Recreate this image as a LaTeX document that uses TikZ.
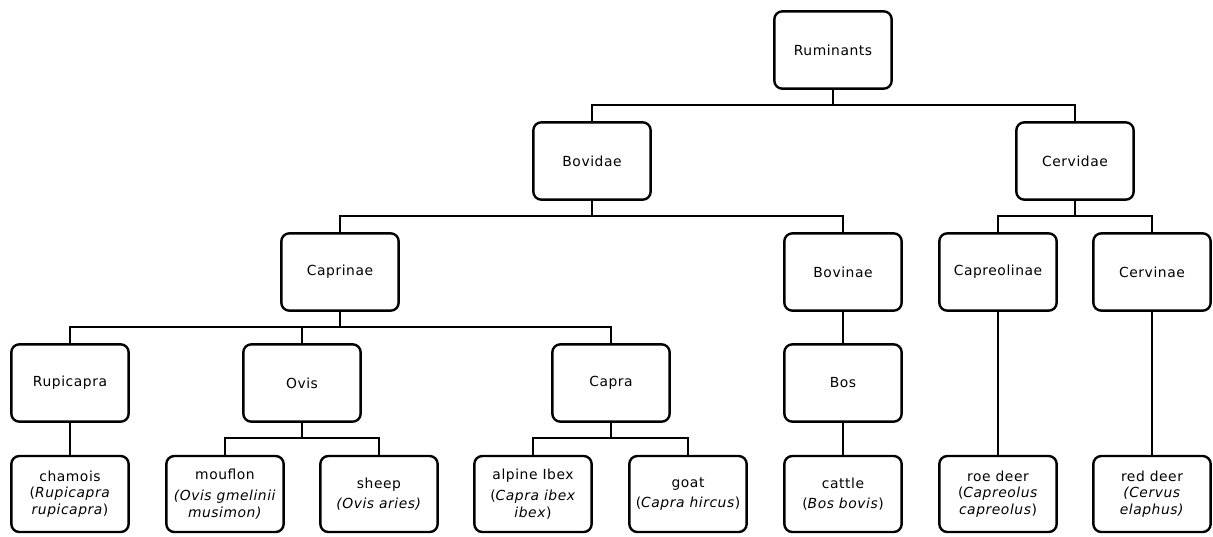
\documentclass[tikz,border=0pt]{standalone}
\usepackage{fontspec}
\setmainfont[LetterSpace=4]{DejaVu Sans}
\usepackage{tikz}

\begin{document}
\begin{tikzpicture}[x=0.75pt, y=-0.75pt, line width=1.8pt,
  every node/.style={rectangle, rounded corners=6pt, draw, align=center,
  minimum width=88pt, minimum height=58pt, inner sep=2pt,
  font=\fontsize{10.4}{13}\selectfont},
  leaf/.style={minimum height=57pt, font=\fontsize{10.4}{12.5}\selectfont},
  branch/.style={to path={(\tikztostart.south) -- ++(0,15) -| (\tikztotarget.north)}}]
  \useasboundingbox (0,0) rectangle (1213,536);
  % families and subfamilies
  \node (rum) at (833,50) {Ruminants};
  \node (bov) at (592,161) {Bovidae};
  \node (cer) at (1075,161) {Cervidae};
  \node (capr) at (340,272) {Caprinae};
  \node (bovin) at (843,272) {Bovinae};
  \node (capreo) at (998,272) {Capreolinae};
  \node (cervin) at (1152,272) {Cervinae};
  % genera
  \node (rup) at (70,383) {Rupicapra};
  \node (ovis) at (302,383) {Ovis};
  \node (capra) at (611,383) {Capra};
  \node (bos) at (843,383) {Bos};
  % species
  \node[leaf] (chamois) at (70,494) {chamois\\(\textit{Rupicapra}\\\textit{rupicapra})};
  \node[leaf] (mouflon) at (225,494) {mouflon\\[3pt]\textit{(Ovis gmelinii}\\\textit{musimon)}};
  \node[leaf] (sheep) at (379,494) {sheep\\[3pt]\textit{(Ovis aries)}};
  \node[leaf] (ibex) at (533,494) {alpine Ibex\\[3pt](\textit{Capra ibex}\\\textit{ibex})};
  \node[leaf] (goat) at (688,494) {goat\\[3pt](\textit{Capra hircus})};
  \node[leaf] (cattle) at (843,494) {cattle\\[3pt](\textit{Bos bovis})};
  \node[leaf] (roe) at (998,494) {roe deer\\(\textit{Capreolus}\\\textit{capreolus})};
  \node[leaf] (red) at (1152,494) {red deer\\\textit{(Cervus}\\\textit{elaphus)}};
  % tree lines
  \foreach \a/\b in {rum/bov, rum/cer, bov/capr, bov/bovin, cer/capreo,
    cer/cervin, capr/rup, capr/ovis, capr/capra, bovin/bos,
    rup/chamois, ovis/mouflon, ovis/sheep, capra/ibex, capra/goat,
    bos/cattle, capreo/roe, cervin/red}
    \draw (\a) to[branch] (\b);
\end{tikzpicture}
\end{document}
